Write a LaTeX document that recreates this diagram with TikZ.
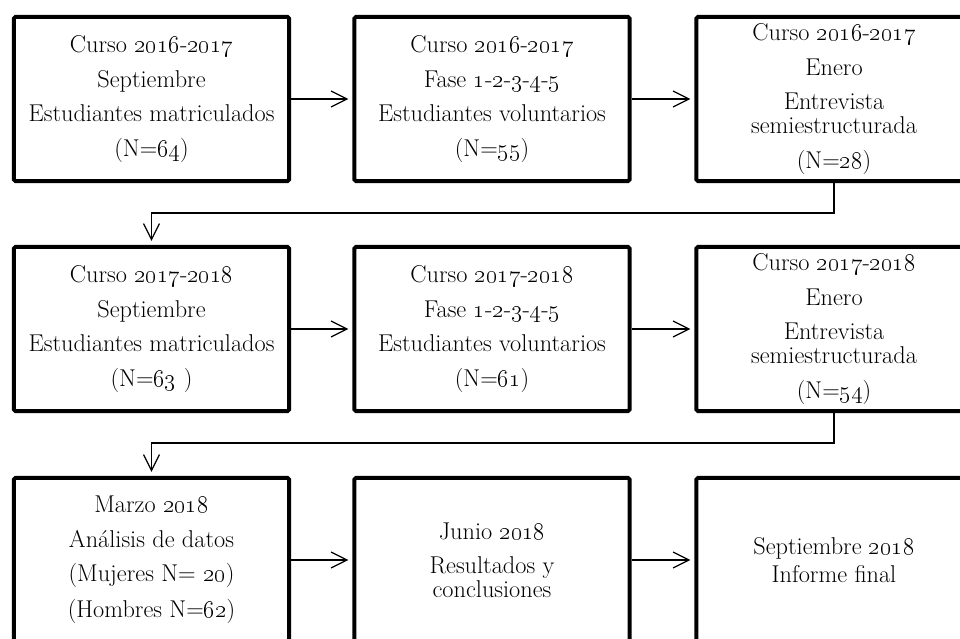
\RequirePackage{fix-cm}
\documentclass[tikz,border=0pt]{standalone}
\usepackage{tikz}
\usetikzlibrary{arrows.meta}
\newcommand{\os}[1]{\oldstylenums{#1}}

\begin{document}
\begin{tikzpicture}[x=0.025cm,y=-0.025cm,
  box/.style={draw,line width=2.85pt,rounded corners=1pt,minimum width=6.875cm,minimum height=4.1cm,align=center,inner sep=2pt,font=\fontsize{17.28}{17}\selectfont},
  flow/.style={line width=0.9pt,-{Straight Barb[length=0.4cm,width=0.4cm]},shorten >=0.1cm}]
\useasboundingbox (0,0) rectangle (960,638);
% Course 2016-2017
\node[box] (sepA) at (151.5,99) {Curso \os{2016}-\os{2017}\\[7.5pt]Septiembre\\[7.5pt]Estudiantes matriculados\\[7.5pt](N=\os{64})};
\node[box] (faseA) at (492,99) {Curso \os{2016}-\os{2017}\\[7.5pt]Fase \os{1}-\os{2}-\os{3}-\os{4}-\os{5}\\[7.5pt]Estudiantes voluntarios\\[7.5pt](N=\os{55})};
\node[box] (eneA) at (834,99) {Curso \os{2016}-\os{2017}\\[7.5pt]Enero\\[7.5pt]Entrevista\\semiestructurada\\[7.5pt](N=\os{28})};
% Course 2017-2018
\node[box] (sepB) at (151.5,329) {Curso \os{2017}-\os{2018}\\[7.5pt]Septiembre\\[7.5pt]Estudiantes matriculados\\[7.5pt](N=\os{63} )};
\node[box] (faseB) at (492,329) {Curso \os{2017}-\os{2018}\\[7.5pt]Fase \os{1}-\os{2}-\os{3}-\os{4}-\os{5}\\[7.5pt]Estudiantes voluntarios\\[7.5pt](N=\os{61})};
\node[box] (eneB) at (834,329) {Curso \os{2017}-\os{2018}\\[7.5pt]Enero\\[7.5pt]Entrevista\\semiestructurada\\[7.5pt](N=\os{54})};
% Analysis and report
\node[box] (marzo) at (151.5,560) {Marzo \os{2018}\\[7.5pt]An\'alisis de datos\\[7.5pt](Mujeres N= \os{20})\\[7.5pt](Hombres N=\os{62})};
\node[box] (junio) at (492,560) {Junio \os{2018}\\[7.5pt]Resultados y\\conclusiones};
\node[box] (informe) at (834,560) {Septiembre \os{2018}\\[3pt]Informe final};
% Arrows
\draw[flow] (sepA) -- (faseA);
\draw[flow] (faseA) -- (eneA);
\draw[flow] (eneA.south) -- ++(0,30) -| (sepB.north);
\draw[flow] (sepB) -- (faseB);
\draw[flow] (faseB) -- (eneB);
\draw[flow] (eneB.south) -- ++(0,30) -| (marzo.north);
\draw[flow] (marzo) -- (junio);
\draw[flow] (junio) -- (informe);
\end{tikzpicture}
\end{document}
